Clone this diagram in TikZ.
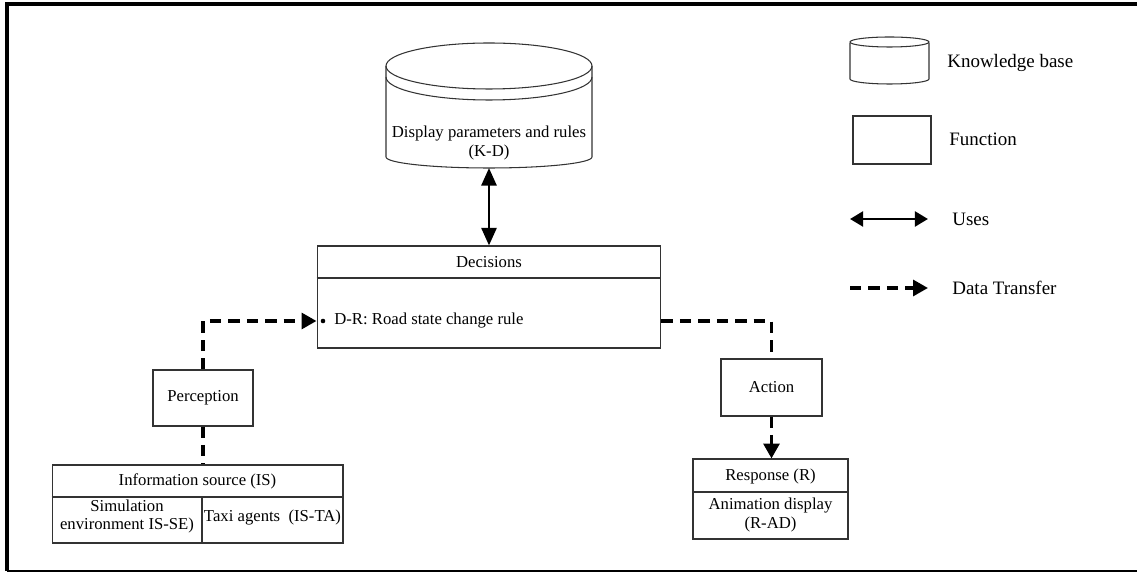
\documentclass[tikz,border=0pt]{standalone}
\usepackage{fontspec}
\setmainfont{Liberation Serif}
\usetikzlibrary{arrows.meta}
\begin{document}
\begin{tikzpicture}[x=0.02cm,y=-0.02cm,
  fbox/.style={draw=black!80,line width=0.6pt,rectangle,inner sep=0pt,align=center,
    font=\fontsize{9.5}{10.8}\selectfont},
  txt/.style={inner sep=0pt,align=center,font=\fontsize{9.5}{10.8}\selectfont},
  leg/.style={inner sep=0pt,anchor=west,font=\fontsize{10.8}{13}\selectfont},
  uses/.style={line width=1.6pt,{Triangle[length=10pt,width=8.5pt]}-{Triangle[length=10pt,width=8.5pt]}},
  usesleg/.style={line width=1.6pt,{Triangle[length=7.5pt,width=8.5pt]}-{Triangle[length=7.5pt,width=8.5pt]}},
  dataline/.style={line width=2pt,dash pattern=on 6.5pt off 4pt},
  data/.style={dataline,-{Triangle[length=8.5pt,width=9pt]}}]
\useasboundingbox (0,0) rectangle (1137,573);
\draw[line width=2pt] (7,571) -- (7,4) -- (1140,4);
\draw[line width=0.8pt] (7,571) -- (1140,571);
\draw[draw=black!80,line width=0.6pt] (386,66) -- (386,157) arc[start angle=180,end angle=360,x radius=103,y radius=-11] -- (592,66);
\draw[draw=black!80,line width=0.6pt] (489,66) ellipse[x radius=103,y radius=23];
\draw[draw=black!80,line width=0.6pt] (386,77) arc[start angle=180,end angle=360,x radius=103,y radius=-23];
\coordinate (kdbot) at (489,168);
\node[txt] (kdtext) at (489,143) {Display parameters and rules\\(K-D)};
\node[fbox,minimum width=6.88cm,minimum height=2.04cm] (decbox) at (489,297) {};
\draw[draw=black!80,line width=0.6pt] (decbox.west |- 0,278) -- (decbox.east |- 0,278);
\node[txt] (dectitle) at (489,262) {Decisions};
\fill (323,321) circle (2.3);
\node[txt,anchor=west] (decrule) at (334,321) {D-R: Road state change rule};
\node[fbox,minimum width=2cm,minimum height=1.12cm] (perc) at (203,398) {Perception};
\node[fbox,minimum width=2.02cm,minimum height=1.14cm] (act) at (771.5,387.5) {Action};
\node[fbox,minimum width=5.82cm,minimum height=1.56cm] (isbox) at (197.5,504) {};
\draw[draw=black!80,line width=0.6pt] (isbox.west |- 0,497) -- (isbox.east |- 0,497);
\draw[draw=black!80,line width=0.6pt] (202,497) -- (isbox.south -| 202,0);
\node[txt] (istitle) at (197.5,481) {Information source (IS)};
\node[txt] (isse) at (127,516.5) {Simulation\\environment IS-SE)};
\node[txt] (ista) at (272.5,518) {Taxi agents\ \ (IS-TA)};
\node[fbox,minimum width=3.1cm,minimum height=1.6cm] (resp) at (770.5,499) {};
\draw[draw=black!80,line width=0.6pt] (resp.west |- 0,492) -- (resp.east |- 0,492);
\node[txt] (rtitle) at (770.5,476) {Response (R)};
\node[txt] (rad) at (770.5,515) {Animation display\\(R-AD)};
\draw[uses] (kdbot) -- (decbox.north);
\draw[data] (perc.north) |- (decbox.west |- decrule.west);
\draw[dataline] (decbox.east |- decrule.west) -| (act.north);
\draw[dataline] (perc.south) -- (perc.south |- isbox.north);
\draw[data] (act.south) -- (act.south |- resp.north);
\draw[draw=black!80,line width=0.6pt] (850,43) -- (850,79) arc[start angle=180,end angle=360,x radius=39.5,y radius=-5] -- (929,43);
\draw[draw=black!80,line width=0.6pt] (889.5,42) ellipse[x radius=39.5,y radius=5];
\node[leg] (kblbl) at (947,63) {Knowledge base};
\node[fbox,minimum width=1.56cm,minimum height=0.96cm] (fnleg) at (892,140) {};
\node[leg] (fnlbl) at (949,139) {Function};
\coordinate (usesa) at (850,219);
\coordinate (usesb) at (928,219);
\draw[usesleg] (usesa) -- (usesb);
\node[leg] (useslbl) at (952,219) {Uses};
\coordinate (dta) at (850,288);
\coordinate (dtb) at (928,288);
\draw[data] (dta) -- (dtb);
\node[leg] (dtlbl) at (952,288) {Data Transfer};
\end{tikzpicture}
\end{document}
